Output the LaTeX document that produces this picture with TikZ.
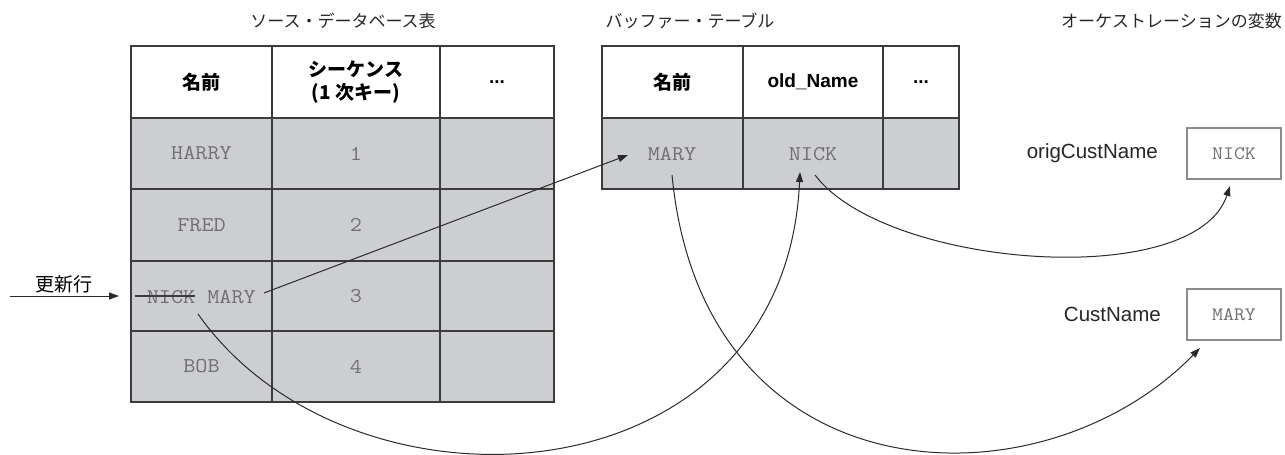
\documentclass[tikz,border=0pt]{standalone}
\usepackage{fontspec}
\setmainfont{Liberation Sans}
\setmonofont{Latin Modern Mono}[FakeStretch=1.12]
\newfontfamily\cjk{Noto Sans CJK JP}
\usetikzlibrary{arrows.meta}
\definecolor{cellgray}{HTML}{CDCED2}
\definecolor{rulecol}{HTML}{3C3C3C}
\definecolor{celltext}{HTML}{707070}
\definecolor{boxline}{HTML}{8C8C8C}
\definecolor{wirecol}{HTML}{2A2A2A}
\tikzset{
  cell/.style={draw=rulecol, line width=2pt, inner sep=0pt, outer sep=0pt, anchor=north west},
  head/.style={cell, fill=white, align=center, font=\cjk\bfseries\fontsize{19}{23}\selectfont},
  headlat/.style={cell, fill=white, align=center, font=\bfseries\fontsize{19}{23}\selectfont},
  body/.style={cell, fill=cellgray, font=\ttfamily\fontsize{21}{23}\selectfont, text=celltext},
  val/.style={inner sep=0pt, font=\ttfamily\fontsize{21}{23}\selectfont, text=celltext},
  title/.style={inner sep=0pt, font=\cjk\fontsize{17}{20}\selectfont, text=black!85},
  varlabel/.style={inner sep=0pt, anchor=east, font=\fontsize{20.5}{23}\selectfont, text=black!85},
  varbox/.style={draw=boxline, line width=1.5pt, fill=white, minimum width=94pt, minimum height=51pt, inner sep=0pt, font=\ttfamily\fontsize{19}{21}\selectfont, text=celltext},
  wire/.style={draw=wirecol, line width=1pt, -{Triangle[length=10pt,width=7pt]}},
}
\begin{document}
\begin{tikzpicture}[x=1pt,y=-1pt]
\path[use as bounding box] (0,0) rectangle (1285,455);

% titles
\node[title] (t1) at (343,21) {ソース・データベース表};
\node[title] (t2) at (690,21) {バッファー・テーブル};
\node[title, anchor=east] (t3) at (1282,21) {オーケストレーションの変数};

% source table
\node[head, minimum width=141pt, minimum height=72pt] (sh1) at (131,46) {名前};
\node[head, minimum width=168pt, minimum height=72pt] (sh2) at (272,46) {シーケンス\\(1 次キー)};
\node[headlat, minimum width=114pt, minimum height=72pt] (sh3) at (440,46) {...};

\node[body, minimum width=141pt, minimum height=71pt] (r1a) at (131,118) {HARRY};
\node[body, minimum width=168pt, minimum height=71pt] (r1b) at (272,118) {1};
\node[body, minimum width=114pt, minimum height=71pt] (r1c) at (440,118) {};

\node[body, minimum width=141pt, minimum height=72pt] (r2a) at (131,189) {FRED};
\node[body, minimum width=168pt, minimum height=72pt] (r2b) at (272,189) {2};
\node[body, minimum width=114pt, minimum height=72pt] (r2c) at (440,189) {};

\node[body, minimum width=141pt, minimum height=70pt] (r3a) at (131,261) {};
\node[body, minimum width=168pt, minimum height=70pt] (r3b) at (272,261) {3};
\node[body, minimum width=114pt, minimum height=70pt] (r3c) at (440,261) {};

\node[body, minimum width=141pt, minimum height=71pt] (r4a) at (131,331) {BOB};
\node[body, minimum width=168pt, minimum height=71pt] (r4b) at (272,331) {4};
\node[body, minimum width=114pt, minimum height=71pt] (r4c) at (440,331) {};

\node[val] (oldnick) at (171,297) {NICK};
\node[val] (newmary) at (231.5,297) {MARY};
\draw[draw=rulecol, line width=1.2pt] ([xshift=-12pt]oldnick.west |- 0,296) -- (oldnick.east |- 0,296);

% buffer table
\node[head, minimum width=141pt, minimum height=72pt] (bh1) at (602,46) {名前};
\node[headlat, minimum width=140pt, minimum height=72pt] (bh2) at (743,46) {old\_Name};
\node[headlat, minimum width=76pt, minimum height=72pt] (bh3) at (883,46) {...};
\node[body, minimum width=141pt, minimum height=71pt] (b1a) at (602,118) {};
\node[body, minimum width=140pt, minimum height=71pt] (b1b) at (743,118) {};
\node[body, minimum width=76pt, minimum height=71pt] (b1c) at (883,118) {};
\node[val] (bufmary) at (672,154) {MARY};
\node[val] (bufnick) at (813,154) {NICK};

% variables
\node[varlabel] (l1) at (1158,153) {origCustName};
\node[varbox] (v1) at (1234,153.5) {NICK};
\node[varlabel] (l2) at (1161,314) {CustName};
\node[varbox] (v2) at (1234,314.5) {MARY};

% update row label
\node[inner sep=0pt, anchor=south, font=\cjk\fontsize{19}{21}\selectfont] (upd) at (64,293) {更新行};
\coordinate (updstart) at (10,296);
\coordinate (updend) at (119,296);
\draw[wire] (updstart) -- (updend);

% connectors
\coordinate (c1s) at (264,293);
\coordinate (c1e) at (628,155);
\draw[wire] (c1s) -- (c1e);

\coordinate (c2s) at (198,314);
\coordinate (c2e) at (800,172);
\draw[wire] (c2s) .. controls (350,530) and (785,505) .. (c2e);

\coordinate (c3s) at (672,175);
\coordinate (c3e) at (1200,348);
\draw[wire] (c3s) .. controls (703,500) and (1040,512) .. (c3e);

\coordinate (c4s) at (815,175);
\coordinate (c4e) at (1230,186);
\draw[wire] (c4s) .. controls (885,268) and (1195,292) .. (c4e);
\end{tikzpicture}
\end{document}
